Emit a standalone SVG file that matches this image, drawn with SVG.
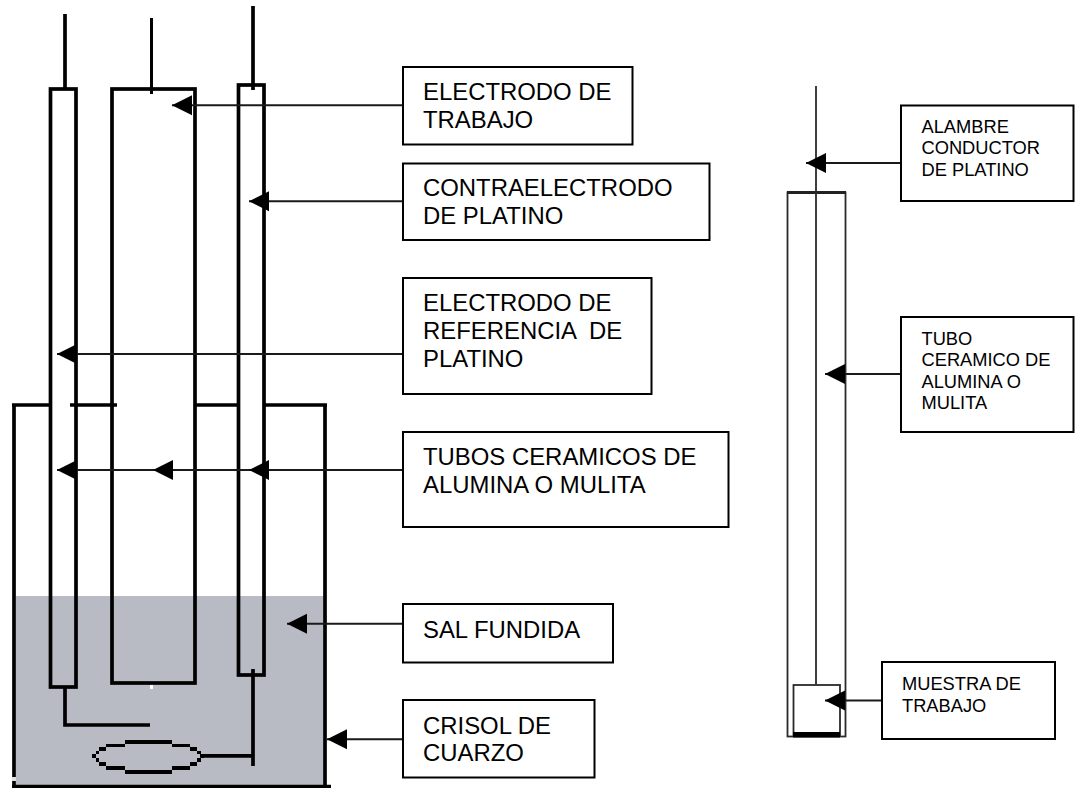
<svg xmlns="http://www.w3.org/2000/svg" width="1077" height="788" viewBox="0 0 1077 788">
<style>
.t{fill:none;stroke:#000;stroke-width:3.7}
.w{fill:none;stroke:#000;stroke-width:3}
.box{fill:#fff;stroke:#000;stroke-width:2}
.c{fill:none;stroke:#1a1a1a;stroke-width:2}
.thin{fill:none;stroke:#2a2a2a;stroke-width:1.8}
.px{fill:#000;shape-rendering:crispEdges}
.l{font-family:"Liberation Sans",Arial,sans-serif;font-size:23.9px;fill:#000;white-space:pre}
.s{font-family:"Liberation Sans",Arial,sans-serif;font-size:18.3px;fill:#000}
</style>
<defs><marker id="a" markerUnits="userSpaceOnUse" markerWidth="21" markerHeight="22" refX="20" refY="11" orient="auto"><path d="M20 11L0 21V1Z" fill="#000"/></marker></defs>
<rect width="1077" height="788" fill="#fff"/>
<rect x="16" y="596" width="307.500" height="189" fill="#b8bac4"/>
<g id="crisol">
<path class="t" d="M14 786V405M12 405H51M70 405H117M195 405H239M264 405H327M325 405V786M12 786.500H331"/>
<rect x="12" y="777" width="4" height="4" fill="#dfe0e6"/>
</g>
<g id="tubo-referencia"><rect class="t" x="50.500" y="89" width="25.500" height="598"/><path class="t" d="M65 14V89M65 687V725H150"/></g>
<g id="tubo-trabajo"><rect class="t" x="112" y="89" width="83" height="594"/><path class="w" d="M151.500 18V94"/><rect x="150" y="685" width="3" height="4" fill="#fff"/></g>
<g id="tubo-contra"><rect class="t" x="238.500" y="85" width="25.500" height="590"/><path class="t" d="M253 6V90M253 669V766M200 755.800H253"/>
<path class="px" d="M125 739.500H172V743.500H190V747H197V750.500H200.500V753.700H204V758H200.500V762H197V765.500H190V769.500H172V773.500H125V769.500H106V765.500H99V762H95.500V758H92V753.700H95.500V750.500H99V747H106V743.500H125ZM125 743.500V747H106V750.500H99V753.700H95.500V758H99V762H106V765.500H125V769.500H172V765.500H190V762H197V758H200.500V753.700H197V750.500H190V747H172V743.500Z" fill-rule="evenodd"/></g>
<g id="tubo-derecho"><rect class="thin" x="787.500" y="192.500" width="58" height="544"/><path d="M787 192.500H846" stroke="#222" stroke-width="3" fill="none"/><path class="thin" d="M816 86V685"/><rect class="thin" x="793.500" y="685" width="46.500" height="50"/><rect x="793" y="732" width="47" height="5.500" fill="#000"/></g>
<g id="conectores">
<path class="c" d="M403 105.300H172" marker-end="url(#a)"/>
<path class="c" d="M403 201.300H249" marker-end="url(#a)"/>
<path class="c" d="M403 354H57" marker-end="url(#a)"/>
<path class="c" d="M403 470H57" marker-end="url(#a)"/>
<path class="c" d="M403 470H153" marker-end="url(#a)"/>
<path class="c" d="M403 470H249" marker-end="url(#a)"/>
<path class="c" d="M403 623.700H287" marker-end="url(#a)"/>
<path class="c" d="M403 739.300H327" marker-end="url(#a)"/>
<path class="c" d="M901 163H806" marker-end="url(#a)"/>
<path class="c" d="M901 374H825" marker-end="url(#a)"/>
<path class="c" d="M882 700.500H825" marker-end="url(#a)"/>
</g>
<g id="n1"><rect class="box" x="403" y="67" width="229.500" height="77.500"/><text class="l" x="423" y="100">ELECTRODO DE</text><text class="l" x="423" y="128">TRABAJO</text></g>
<g id="n2"><rect class="box" x="403" y="163.500" width="306.500" height="76.500"/><text class="l" x="423" y="196">CONTRAELECTRODO</text><text class="l" x="423" y="224">DE PLATINO</text></g>
<g id="n3"><rect class="box" x="403" y="278" width="248.500" height="116"/><text class="l" x="423" y="311">ELECTRODO DE</text><text class="l" x="423" y="339">REFERENCIA  DE</text><text class="l" x="423" y="367">PLATINO</text></g>
<g id="n4"><rect class="box" x="403" y="432" width="325.500" height="95"/><text class="l" x="423" y="465">TUBOS CERAMICOS DE</text><text class="l" x="423" y="493">ALUMINA O MULITA</text></g>
<g id="n5"><rect class="box" x="403" y="604" width="210" height="58.500"/><text class="l" x="423" y="638">SAL FUNDIDA</text></g>
<g id="n6"><rect class="box" x="403" y="700" width="191.500" height="77.500"/><text class="l" x="423" y="734">CRISOL DE</text><text class="l" x="423" y="761">CUARZO</text></g>
<g id="n7"><rect class="box" x="901" y="105.500" width="172.500" height="95.500"/><text class="s" x="921.500" y="133">ALAMBRE</text><text class="s" x="921.500" y="154">CONDUCTOR</text><text class="s" x="921.500" y="176">DE PLATINO</text></g>
<g id="n8"><rect class="box" x="901" y="317" width="172.500" height="115"/><text class="s" x="921.500" y="345">TUBO</text><text class="s" x="921.500" y="366">CERAMICO DE</text><text class="s" x="921.500" y="388">ALUMINA O</text><text class="s" x="921.500" y="409">MULITA</text></g>
<g id="n9"><rect class="box" x="882" y="662" width="173" height="77"/><text class="s" x="902" y="690">MUESTRA DE</text><text class="s" x="902" y="712">TRABAJO</text></g>
</svg>
